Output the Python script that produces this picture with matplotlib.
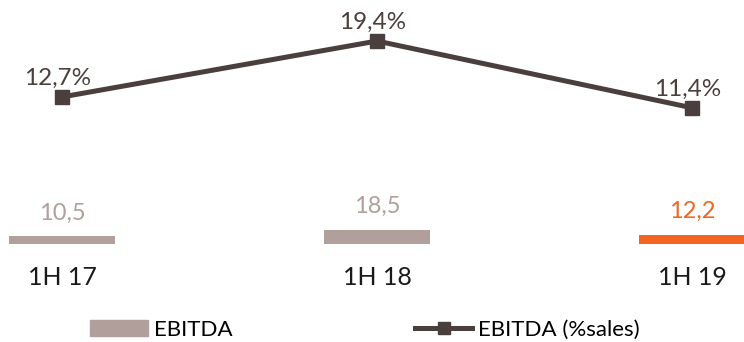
"""EBITDA and EBITDA margin by half-year."""
import matplotlib

matplotlib.use("Agg")
import matplotlib.pyplot as plt
import matplotlib.patches as mpatches
from matplotlib.lines import Line2D

periods = ["1H 17", "1H 18", "1H 19"]
ebitda = [10.5, 18.5, 12.2]
ebitda_pct = [12.7, 19.4, 11.4]
ebitda_labels = ["10,5", "18,5", "12,2"]
pct_labels = ["12,7%", "19,4%", "11,4%"]

GREY = "#b09f9a"
ORANGE = "#f26522"
DARK = "#4a3f3d"
bar_colors = [GREY, GREY, ORANGE]

plt.rcParams["font.family"] = ["Lato", "DejaVu Sans"]

fig = plt.figure(figsize=(7.44, 3.42), dpi=100)
ax = fig.add_axes([0, 98 / 342, 1, 244 / 342])
ax.set_xlim(-62 / 315, (744 - 62) / 315)
ax.set_ylim(0, 244 / 0.77)
ax.axis("off")

x = list(range(len(periods)))
ax.bar(x, ebitda, width=0.336, color=bar_colors, zorder=2)
for xi, v, lab, c in zip(x, ebitda, ebitda_labels, bar_colors):
    ax.annotate(lab, (xi, v), xytext=(0, 9), textcoords="offset points",
                ha="center", va="bottom", fontsize=17, color=c)
    ax.annotate(periods[xi], (xi, 0), xytext=(0, -24), textcoords="offset points",
                ha="center", va="center", fontsize=18, color="#1a1a1a")

ax2 = ax.twinx()
ax2.set_ylim((203 - 244) / 8.35, 203 / 8.35)
ax2.axis("off")
ax2.plot(x, ebitda_pct, color=DARK, lw=3.6, marker="s", markersize=10, zorder=3)
for xi, v, lab in zip(x, ebitda_pct, pct_labels):
    ax2.annotate(lab, (xi, v), xytext=(-3, 6), textcoords="offset points",
                 ha="center", va="bottom", fontsize=17.5, color=DARK)

handles = [
    mpatches.Patch(color=GREY),
    Line2D([], [], color=DARK, lw=3.6, marker="s", markersize=9),
]
fig.legend(handles, ["EBITDA", "EBITDA (%sales)"], loc="center",
           bbox_to_anchor=(365 / 744, 12 / 342), ncol=2, frameon=False,
           handlelength=2.6, handletextpad=0.25, columnspacing=8.2,
           prop={"size": 16})

fig.savefig("out.png", dpi=100, facecolor="white")
